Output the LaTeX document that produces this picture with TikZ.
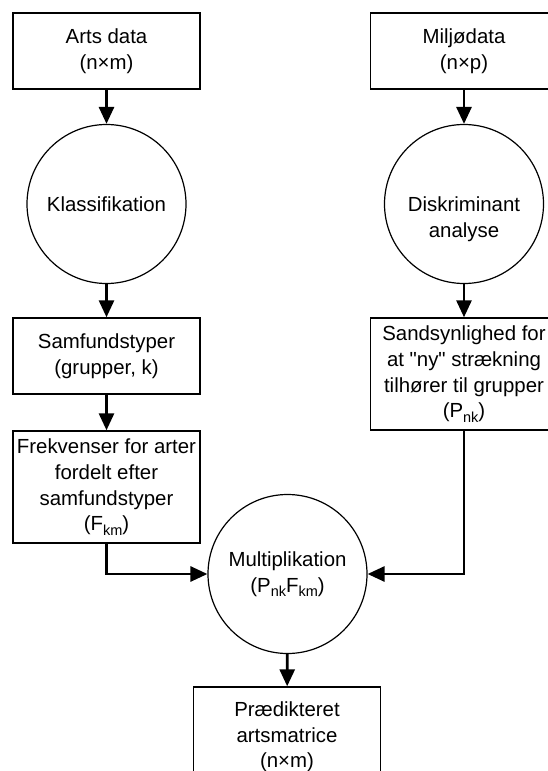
\documentclass[tikz,border=0pt]{standalone}
\usepackage{fontspec}
\setmainfont{Liberation Sans}
\usetikzlibrary{arrows.meta}
% lowered, smaller index letters such as P_nk
\newcommand{\idx}[1]{\raisebox{-0.22em}{\fontsize{14.5}{14.5}\selectfont #1}}

\begin{document}
\begin{tikzpicture}[x=1pt,y=-1pt,
  every node/.style={font=\fontsize{20.4}{25.7}\selectfont, align=center, inner sep=0pt},
  box/.style={draw, line width=1.4pt, minimum width=187pt},
  shortbox/.style={box, minimum height=76pt},
  tallbox/.style={box, minimum height=112pt},
  proc/.style={draw, circle, line width=1.2pt, minimum size=159pt},
  flow/.style={line width=2.8pt, -{Triangle[length=17pt,width=15pt]}}
]
\useasboundingbox (0,0) rectangle (548,771);
\clip (0,0) rectangle (548,771);

% left branch: species data
\node[shortbox] (arts) at (106.5,51) {Arts data\\(n×m)};
\node[proc] (klas) at (106.5,204) {Klassifikation};
\node[shortbox] (samf) at (106.5,356) {Samfundstyper\\(grupper, k)};
\node[tallbox] (frek) at (106.5,487) {Frekvenser for arter\\fordelt efter\\samfundstyper\\(F\idx{km})};

% right branch: environmental data
\node[shortbox] (milj) at (464,51) {Miljødata\\(n×p)};
\node[proc] (disk) at (464,204) {};
\node (disktxt) at (464,219) {Diskriminant\\analyse};
\node[tallbox] (sand) at (464,374) {Sandsynlighed for\\at \textquotedbl ny\textquotedbl\ strækning\\tilhører til grupper\\(P\idx{nk})};

% combination and result
\node[proc] (mult) at (287.5,574) {Multiplikation\\(P\idx{nk}F\idx{km})};
\node[tallbox] (pred) at (287,743) {};
\node (predtxt) at (287,737) {Prædikteret\\artsmatrice\\(n×m)};

% connectors
\draw[flow] (arts) -- (klas);
\draw[flow] (klas) -- (samf);
\draw[flow] (samf) -- (frek);
\draw[flow] (milj) -- (disk);
\draw[flow] (disk) -- (sand);
\draw[flow] (frek.south) |- (mult);
\draw[flow] (sand.south) |- (mult);
\draw[flow] (mult) -- (pred);
\end{tikzpicture}
\end{document}
